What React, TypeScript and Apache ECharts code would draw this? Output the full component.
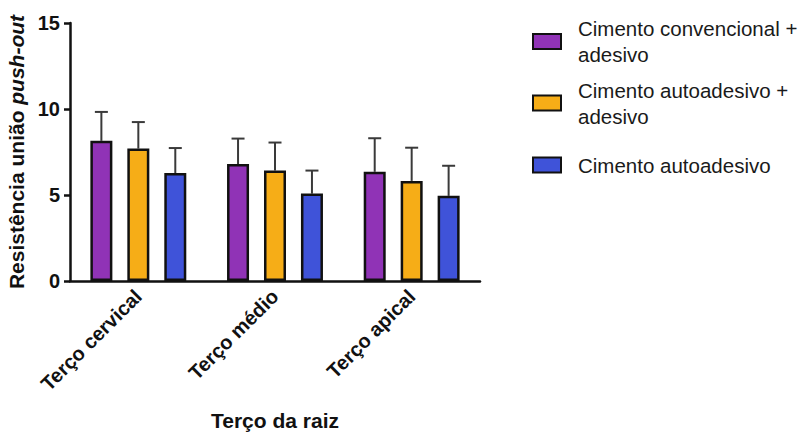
import React, { useEffect, useRef } from "react";
import * as echarts from "echarts";

const categories = ["Terço cervical", "Terço médio", "Terço apical"];
const seriesNames = [
  "Cimento convencional + adesivo",
  "Cimento autoadesivo + adesivo",
  "Cimento autoadesivo",
];
const legendLabels = [
  "Cimento convencional +\nadesivo",
  "Cimento autoadesivo +\nadesivo",
  "Cimento autoadesivo",
];
const meansConvencional = [8.15, 6.8, 6.35];
const sdConvencional = [1.68, 1.48, 1.95];
const meansAutoAdesivo = [7.7, 6.42, 5.82];
const sdAutoAdesivo = [1.54, 1.63, 1.93];
const meansAuto = [6.28, 5.08, 4.95];
const sdAuto = [1.45, 1.34, 1.75];
const yTicks = [0, 5, 10, 15];

const colors = ["#9033b6", "#f6ad17", "#3f53d9"];
const FONT = 'Arial, "Liberation Sans", Helvetica, sans-serif';
const BAR_WIDTH = 22;
const BAR_GAP = 0.68;

export default function App() {
  const ref = useRef<HTMLDivElement>(null);
  useEffect(() => {
    document.body.style.margin = "0";
    if (!ref.current) return;
    const chart = echarts.init(ref.current, null, { renderer: "svg" });
    const means = [meansConvencional, meansAutoAdesivo, meansAuto];
    const sds = [sdConvencional, sdAutoAdesivo, sdAuto];

    const barSeries = means.map((m, i) => ({
      name: seriesNames[i],
      type: "bar",
      data: m,
      barWidth: BAR_WIDTH,
      barGap: `${BAR_GAP * 100}%`,
      itemStyle: { color: colors[i], borderColor: "#111", borderWidth: 2.5 },
      z: 3,
    }));

    const errSeries = means.map((m, i) => {
      const offset = (i - 1) * BAR_WIDTH * (1 + BAR_GAP);
      return {
        name: seriesNames[i] + " err",
        type: "custom",
        z: 2,
        encode: { x: 0, y: [1, 2] },
        data: m.map((v, k) => [k, v, +(v + sds[i][k]).toFixed(2)]),
        renderItem: (params: any, api: any) => {
          const idx = api.value(0);
          const base = api.coord([idx, api.value(1)]);
          const top = api.coord([idx, api.value(2)]);
          const x = base[0] + offset;
          const style = { stroke: "#3a3a3a", lineWidth: 2 };
          return {
            type: "group",
            children: [
              { type: "line", shape: { x1: x, y1: base[1], x2: x, y2: top[1] }, style },
              { type: "line", shape: { x1: x - 6.5, y1: top[1], x2: x + 6.5, y2: top[1] }, style },
            ],
          };
        },
      };
    });

    const legendTops = [2.5, 64, 152];
    const legends = seriesNames.map((n, i) => ({
      show: true,
      orient: "vertical",
      left: 532,
      top: legendTops[i],
      padding: 0,
      itemWidth: 28,
      itemHeight: 15,
      icon: "rect",
      data: [n],
      formatter: () => legendLabels[i],
      textStyle: {
        fontFamily: FONT,
        fontSize: 20.5,
        color: "#1a1a1a",
        lineHeight: 26,
        padding: legendLabels[i].includes("\n") ? [26, 0, 0, 12] : [0, 0, 0, 12],
      },
    }));

    chart.setOption({
      animation: false,
      backgroundColor: "#ffffff",
      legend: legends,
      grid: {
        left: 70,
        right: 325,
        top: 23,
        bottom: 151,
        containLabel: false,
        outerBoundsMode: "none",
      },
      xAxis: {
        type: "category",
        data: categories,
        name: "Terço da raiz",
        nameLocation: "middle",
        nameGap: 129,
        nameTextStyle: { fontFamily: FONT, fontSize: 21, fontWeight: "bold", color: "#111" },
        axisLine: { lineStyle: { color: "#111", width: 2.5 } },
        axisTick: { alignWithLabel: true, length: 8, lineStyle: { color: "#111", width: 2.5 } },
        axisLabel: {
          rotate: 45,
          margin: 12,
          fontFamily: FONT,
          fontSize: 20,
          fontWeight: "bold",
          color: "#111",
        },
      },
      yAxis: {
        type: "value",
        min: 0,
        max: 15,
        interval: 5,
        name: "{a|Resistência união }{b|push-out}",
        nameLocation: "middle",
        nameGap: 37,
        nameRotate: 90,
        nameTextStyle: {
          rich: {
            a: { fontFamily: FONT, fontSize: 21, fontWeight: "bold", color: "#111" },
            b: { fontFamily: FONT, fontSize: 21, fontWeight: "bold", fontStyle: "italic", color: "#111" },
          },
        },
        axisLine: { show: true, lineStyle: { color: "#111", width: 2.5 } },
        axisTick: { show: true, length: 6, lineStyle: { color: "#111", width: 2.5 } },
        splitLine: { show: false },
        axisLabel: {
          margin: 10,
          fontFamily: FONT,
          fontSize: 20,
          fontWeight: "bold",
          color: "#111",
          formatter: (v: number) => (yTicks.includes(v) ? String(v) : ""),
        },
      },
      series: [...barSeries, ...errSeries],
    });
    return () => chart.dispose();
  }, []);
  return <div ref={ref} style={{ width: 805, height: 432 }} />;
}
